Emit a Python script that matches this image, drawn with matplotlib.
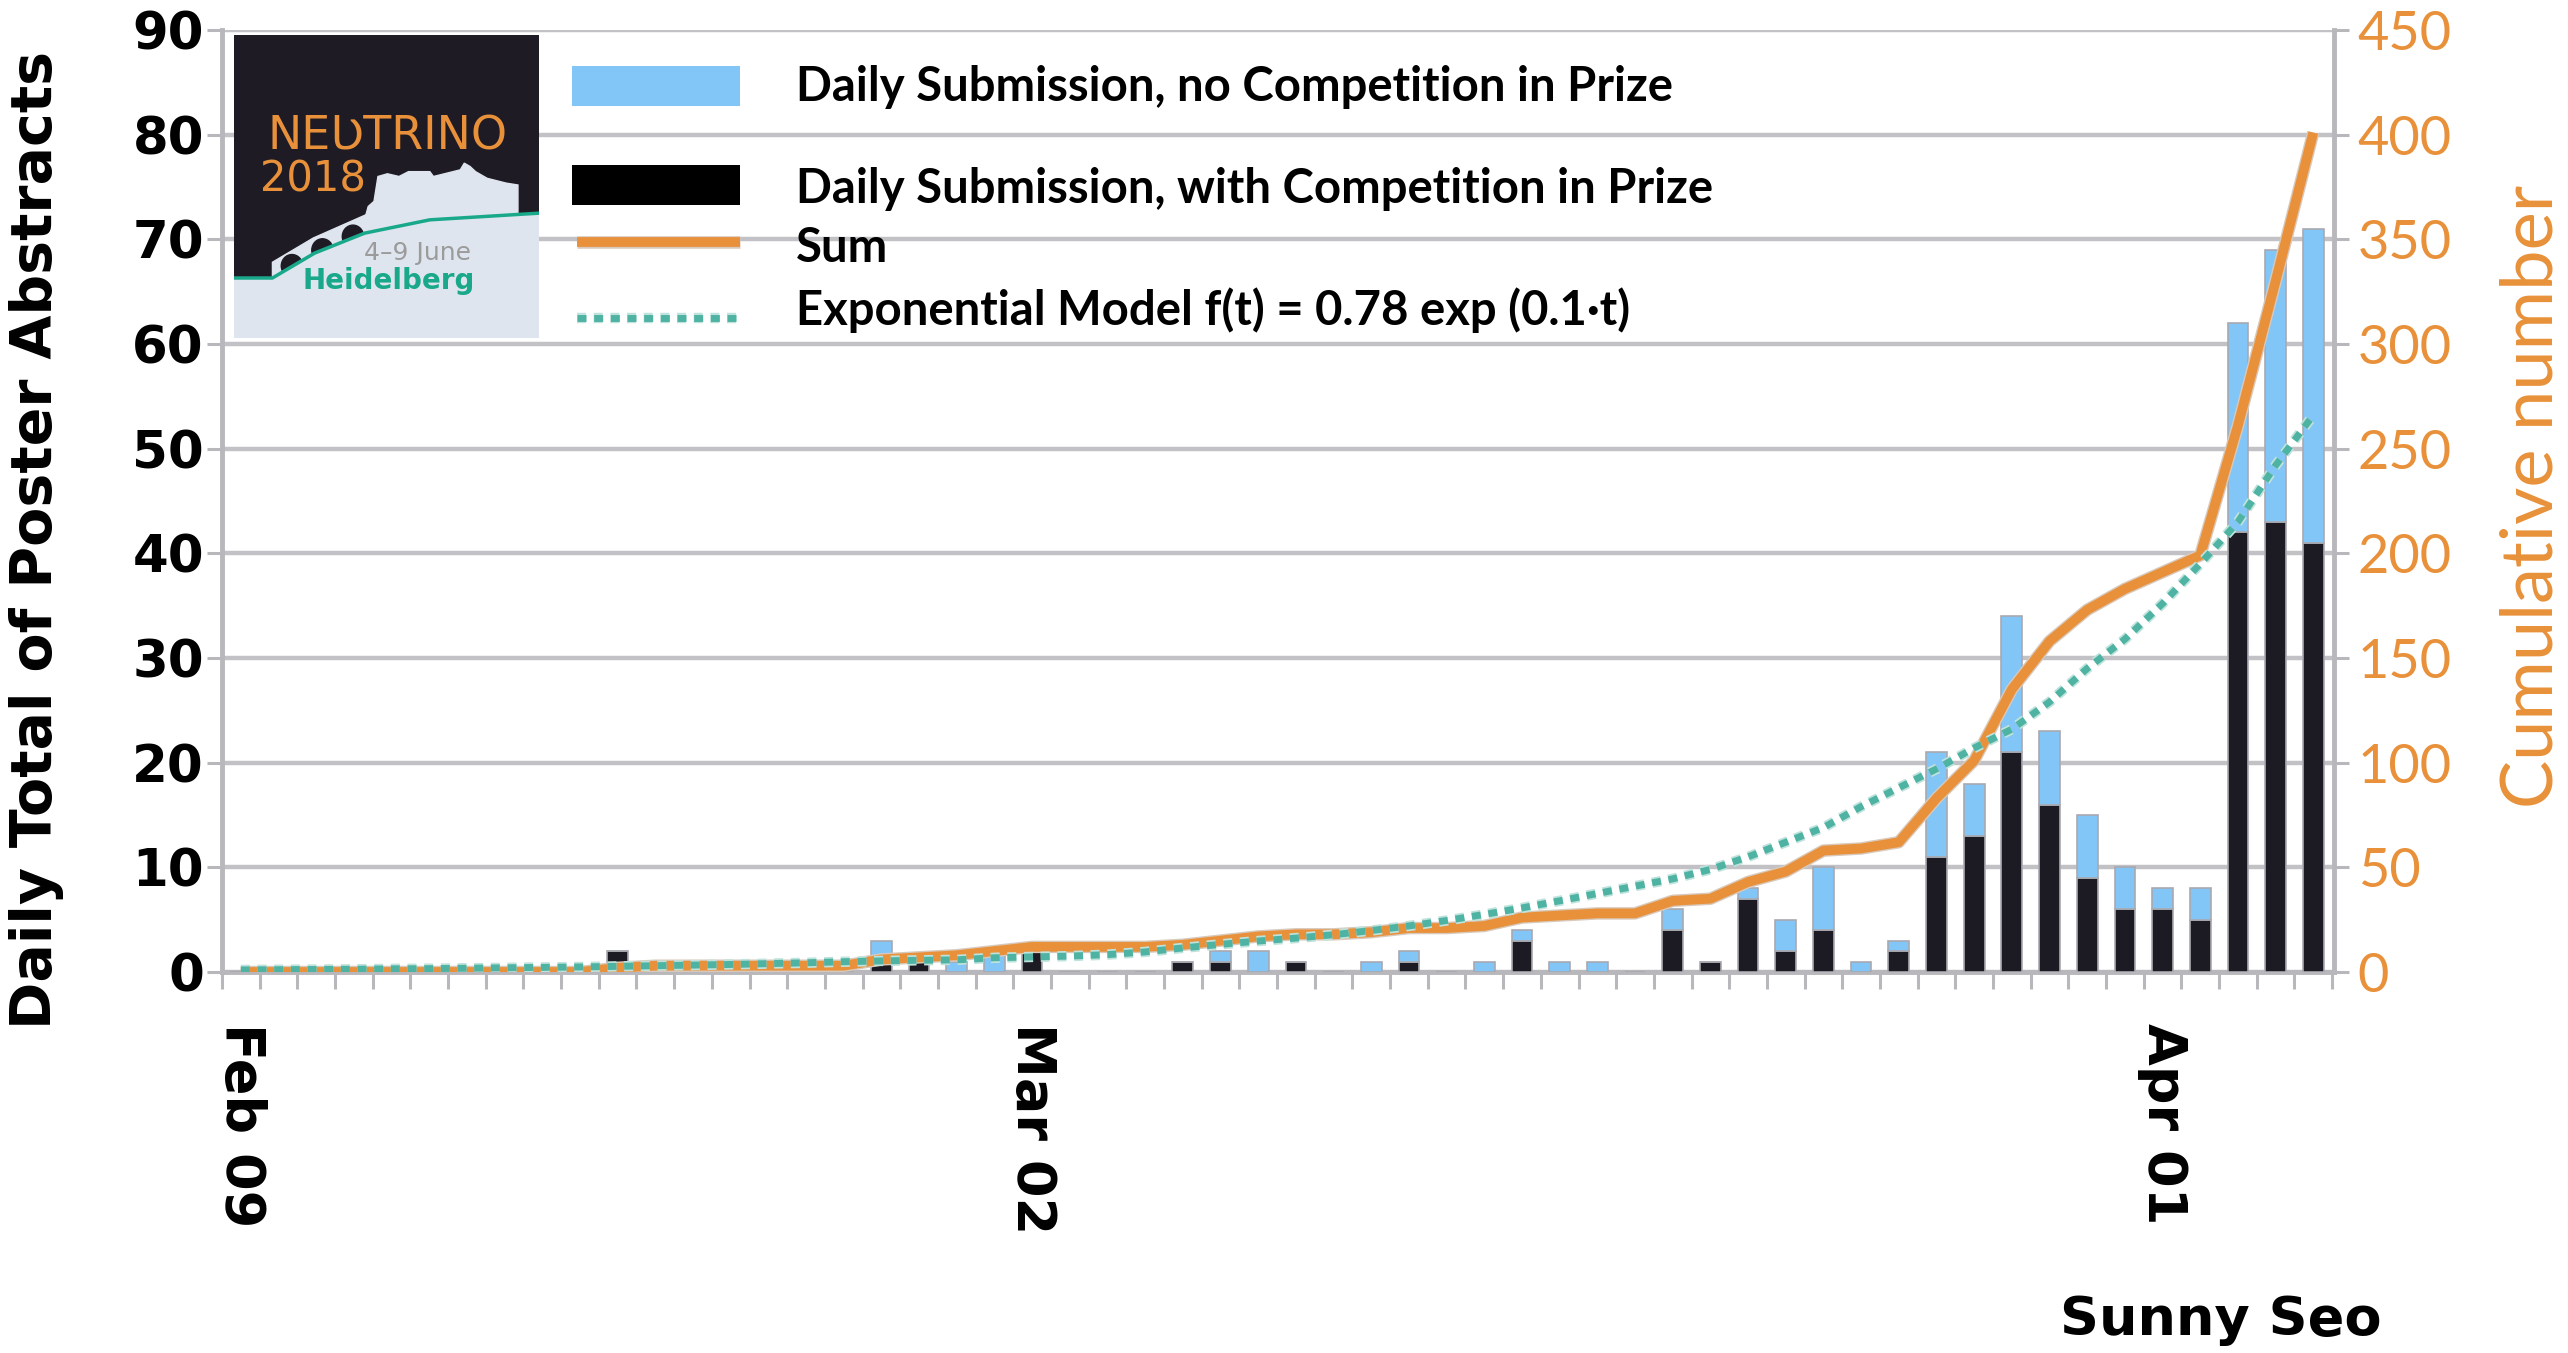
import numpy as np
import matplotlib
matplotlib.use("Agg")
import matplotlib.pyplot as plt
import matplotlib.patheffects as pe
from matplotlib.patches import Rectangle, Polygon, Ellipse
from matplotlib.lines import Line2D

# one category per day, Feb 09 .. Apr 05 (2018)
days = np.arange(56)
tick_days = [0, 21, 51]
tick_labels = ['Feb 09', 'Mar 02', 'Apr 01']

# daily submissions with competition in prize (black)
with_prize = ([0] * 10 + [2, 0, 0, 0, 0, 0, 0, 1, 1, 0]
              + [0, 2, 0, 0, 0, 1, 1, 0, 1, 0]
              + [0, 1, 0, 0, 3, 0, 0, 0, 4, 1]
              + [7, 2, 4, 0, 2, 11, 13, 21, 16, 9]
              + [6, 6, 5, 42, 43, 41])
# daily submissions, no competition in prize (light blue)
no_prize = ([0] * 10 + [0, 1, 0, 0, 0, 0, 0, 2, 0, 1]
            + [2, 0, 0, 0, 0, 0, 1, 2, 0, 0]
            + [1, 1, 0, 1, 1, 1, 1, 0, 2, 0]
            + [1, 3, 6, 1, 1, 10, 5, 13, 7, 6]
            + [4, 2, 3, 20, 26, 30])
# exponential model (right axis)
model = [1.0, 1.1, 1.2, 1.3, 1.5, 1.6, 1.8, 2.0, 2.2, 2.4,
         2.7, 3.0, 3.3, 3.6, 4.0, 4.4, 4.9, 5.3, 5.6, 5.8,
         6.8, 7.2, 7.6, 8.3, 9.6, 11.5, 13.2, 14.8, 16.2, 17.8,
         19.8, 22.0, 24.6, 27.5, 30.6, 34.0, 37.5, 41.0, 44.5, 49.0,
         55.0, 62.0, 69.0, 79.0, 88.0, 97.0, 107.0, 116.0, 129.0, 145.0,
         159.0, 176.0, 195.0, 215.0, 242.0, 266.0]

total = np.array(with_prize) + np.array(no_prize)
cumulative = np.cumsum(total)

ORANGE = '#E8913A'
LIGHT = '#82C6F8'
DARK = '#1c1a22'
TEAL = '#4fb3a3'
GRID = '#c2c2c6'
W, H = 2568, 1353


def fx(x):
    return x / W


def fy(y):
    return 1 - y / H


fig = plt.figure(figsize=(25.68, 13.53), dpi=100)
ax = fig.add_axes([fx(222), fy(972), fx(2334) - fx(222), fy(30) - fy(972)])
ax2 = ax.twinx()

# bars
ax.bar(days, with_prize, width=0.55, color=DARK, edgecolor='#a9a9b0', linewidth=1.2, zorder=3)
ax.bar(days, no_prize, width=0.55, bottom=with_prize, color=LIGHT, edgecolor='#a9a9b0',
       linewidth=1.2, zorder=3)

ax.set_xlim(-0.5, 55.55)
ax.set_ylim(0, 90)
ax.set_yticks(range(0, 91, 10))
ax.yaxis.grid(True, color=GRID, lw=3.2)
ax.set_axisbelow(True)
for lab in ax.get_yticklabels():
    lab.set_fontweight('bold')
ax.tick_params(axis='y', length=11, width=2.2, color='#b8b8bc', pad=2, labelsize=37)

ax.set_xticks(np.arange(-0.5, 56, 1), minor=True)
ax.set_xticks(tick_days)
ax.set_xticklabels(tick_labels, rotation=-90, fontsize=39, fontweight='bold')
ax.tick_params(axis='x', which='minor', length=12, width=2.2, color='#b8b8bc')
ax.tick_params(axis='x', which='major', length=0, pad=37)

for s in ['left', 'right', 'bottom']:
    ax.spines[s].set_color('#b8b8bc')
    ax.spines[s].set_linewidth(3.5)
ax.spines['top'].set_visible(False)

# lines on the cumulative axis
ax2.plot(days, cumulative, color=ORANGE, lw=7, solid_capstyle='butt', zorder=4,
         path_effects=[pe.Stroke(linewidth=9, foreground='#d9c9bb'), pe.Normal()])
ax2.plot(days, model, color=TEAL, lw=5, linestyle=(0, (1.3, 1.1)), zorder=5,
         path_effects=[pe.Stroke(linewidth=7.5, foreground='#bfe3dc'), pe.Normal()])
ax2.set_ylim(0, 450)
ax2.set_yticks(range(0, 451, 50))
ax2.tick_params(axis='y', length=11, width=2.2, color='#b8b8bc', labelcolor=ORANGE,
                labelsize=39, pad=6)
for lab in ax2.get_yticklabels():
    lab.set_fontfamily('Lato')
for s in ax2.spines.values():
    s.set_visible(False)

# axis titles
fig.text(fx(37), fy(540), 'Daily Total of Poster Abstracts', rotation=90, ha='center',
         va='center', fontsize=41, fontweight='bold')
fig.text(fx(2532), fy(496), 'Cumulative number', rotation=90, ha='center', va='center',
         fontsize=52, color=ORANGE, family='Lato')
fig.text(fx(2221), fy(1320), 'Sunny Seo', ha='center', va='center', fontsize=39,
         fontweight='bold')

# legend drawn by hand (uneven spacing in the original)
fig.patches.append(Rectangle((fx(572), fy(106)), fx(740) - fx(572), fy(66) - fy(106),
                             transform=fig.transFigure, facecolor=LIGHT, edgecolor='none'))
fig.patches.append(Rectangle((fx(572), fy(205)), fx(740) - fx(572), fy(165) - fy(205),
                             transform=fig.transFigure, facecolor='black', edgecolor='none'))
fig.lines.append(Line2D([fx(577), fx(740)], [fy(242), fy(242)], transform=fig.transFigure,
                        color=ORANGE, lw=7, solid_capstyle='butt',
                        path_effects=[pe.Stroke(linewidth=9, foreground='#d9c9bb'), pe.Normal()]))
fig.lines.append(Line2D([fx(577), fx(740)], [fy(318), fy(318)], transform=fig.transFigure,
                        color=TEAL, lw=5, linestyle=(0, (1.3, 1.1)),
                        path_effects=[pe.Stroke(linewidth=7.5, foreground='#bfe3dc'), pe.Normal()]))
legend_texts = ['Daily Submission, no Competition in Prize',
                'Daily Submission, with Competition in Prize',
                'Sum',
                'Exponential Model f(t) = 0.78 exp (0.1\u00b7t)']
for txt, y in zip(legend_texts, [87, 189, 248, 310]):
    fig.text(fx(796), fy(y), txt, ha='left', va='center', fontsize=34, fontweight='bold',
             family='Lato')

# conference logo
lax = fig.add_axes([fx(234), fy(338), fx(539) - fx(234), fy(35) - fy(338)])
lax.set_xlim(0, 1)
lax.set_ylim(0, 1)
lax.axis('off')
lax.add_patch(Rectangle((0, 0), 1, 1, color='#1e1b24'))
ground = [(0, 0.198), (0.126, 0.198), (0.264, 0.28), (0.428, 0.346), (0.642, 0.39), (1, 0.412)]
castle = [(0.428, 0.39), (0.44, 0.434), (0.459, 0.451), (0.472, 0.533), (0.503, 0.542),
          (0.541, 0.533), (0.572, 0.549), (0.642, 0.549), (0.654, 0.533), (0.742, 0.555),
          (0.755, 0.577), (0.774, 0.566), (0.792, 0.549), (0.83, 0.527), (0.893, 0.511),
          (0.931, 0.505), (0.931, 0.412), (0.642, 0.39), (0.428, 0.346)]
lax.add_patch(Polygon(castle, closed=True, color='#dfe5ef'))
bridge = [(0.126, 0.198), (0.126, 0.25), (0.26, 0.33), (0.44, 0.41), (0.44, 0.346), (0.264, 0.28)]
lax.add_patch(Polygon(bridge, closed=True, color='#dfe5ef'))
for cx, cy in [(0.19, 0.238), (0.29, 0.29), (0.39, 0.335)]:
    lax.add_patch(Ellipse((cx, cy), 0.07, 0.075, color='#1e1b24'))
lax.add_patch(Polygon([(0, 0)] + ground + [(1, 0)], closed=True, color='#dfe5ef'))
gx, gy = zip(*ground)
lax.plot(gx, gy, color='#19a98a', lw=2.5)
lax.text(0.503, 0.663, 'NE\u01b2TRINO', ha='center', va='center', fontsize=33, color=ORANGE)
lax.text(0.26, 0.522, '2018', ha='center', va='center', fontsize=30, color=ORANGE)
lax.text(0.60, 0.28, '4\u20139 June', ha='center', va='center', fontsize=18, color='#9b9b9b')
lax.text(0.507, 0.187, 'Heidelberg', ha='center', va='center', fontsize=20, color='#19a98a',
         fontweight='bold')

fig.savefig('out.png', dpi=100)
